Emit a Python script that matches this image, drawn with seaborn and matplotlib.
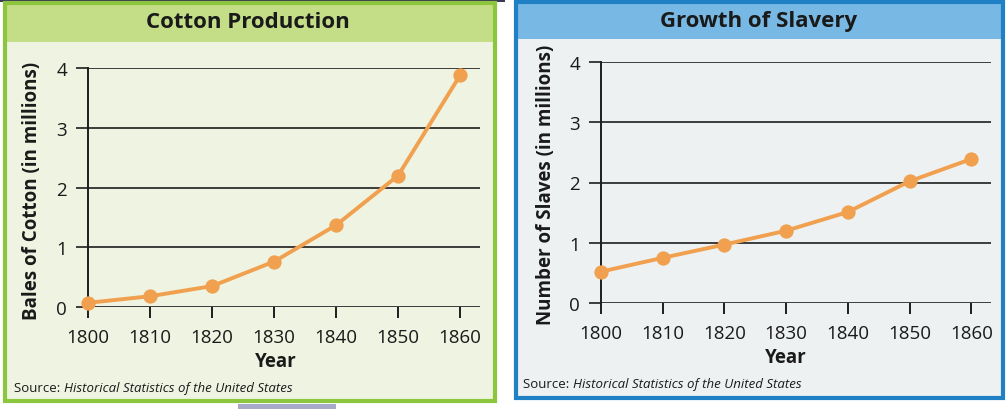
import matplotlib
matplotlib.use("Agg")
import matplotlib.pyplot as plt
import seaborn as sns
import pandas as pd
from matplotlib.patches import Rectangle

# ---- data ----
years = [1800, 1810, 1820, 1830, 1840, 1850, 1860]
cotton_bales = [0.07, 0.18, 0.35, 0.76, 1.37, 2.20, 3.88]   # millions of bales
slaves = [0.52, 0.75, 0.97, 1.20, 1.51, 2.02, 2.39]          # millions of people
y_ticks = [0, 1, 2, 3, 4]
x_ticks = years

sns.set_theme(style="white")
plt.rcParams['font.family'] = ['Open Sans', 'DejaVu Sans']

W, H = 1008, 410
fig = plt.figure(figsize=(W / 100, H / 100), dpi=100)
fig.patch.set_facecolor('white')


def fx(x):
    return x / W


def fy(y):
    return 1 - y / H


def rect(x0, y0, x1, y1, **kw):
    fig.patches.append(Rectangle((fx(x0), fy(y1)), fx(x1) - fx(x0), fy(y0) - fy(y1),
                                 transform=fig.transFigure, **kw))


ORANGE = '#f0a04e'
GRID = '#1e1e1e'
TXT = '#1a1a1a'

# page decorations visible around the panels
rect(0, 0, 505, 2.5, facecolor='#3b3a55', edgecolor='none', zorder=-4)
rect(238, 405, 336, 410, facecolor='#a8a8c8', edgecolor='none', zorder=-4)


def panel(box, band_bottom, border, band, inner, title, title_xy):
    x0, y0, x1, y1 = box
    rect(x0, y0, x1, y1, facecolor=inner, edgecolor='none', zorder=-3)
    rect(x0, y0, x1, band_bottom, facecolor=band, edgecolor='none', zorder=-2)
    rect(x0, y0, x1, y1, facecolor='none', edgecolor=border, lw=3.0, zorder=-1)
    fig.text(fx(title_xy[0]), fy(title_xy[1]), title, ha='center', va='center',
             fontsize=16, fontweight='bold', color=TXT)


def chart(axbox, values, ylabel, ylabel_xy, year_xy, source_xy):
    left, top, right, bottom = axbox
    ax = fig.add_axes([fx(left), fy(bottom), fx(right) - fx(left), (bottom - top) / H])
    ax.set_facecolor('none')
    df = pd.DataFrame({'Year': years, 'Value': values})
    sns.lineplot(data=df, x='Year', y='Value', ax=ax, color=ORANGE, lw=2.8,
                 marker='o', markersize=9.5, markeredgecolor=ORANGE,
                 markerfacecolor=ORANGE, clip_on=False, zorder=5)
    ax.set_xlim(1800, 1863.2)
    ax.set_ylim(0, 4)
    ax.set_xticks(x_ticks)
    ax.set_yticks(y_ticks)
    ax.set_xticklabels([str(v) for v in x_ticks])
    ax.set_yticklabels([str(v) for v in y_ticks])
    ax.grid(axis='y', color=GRID, lw=1.2)
    ax.grid(axis='x', visible=False)
    ax.set_axisbelow(True)
    for s in ['top', 'right', 'bottom']:
        ax.spines[s].set_visible(False)
    ax.spines['left'].set_color(GRID)
    ax.spines['left'].set_linewidth(1.4)
    ax.tick_params(axis='y', which='major', length=9, width=1.2, color=GRID,
                   direction='out', pad=6, labelsize=13.5, labelcolor=TXT, left=True)
    ax.tick_params(axis='x', which='major', length=8, width=1.4, color=GRID,
                   direction='out', pad=7, labelsize=13.5, labelcolor=TXT, bottom=True)
    ax.set_xlabel('')
    ax.set_ylabel('')
    fig.text(fx(ylabel_xy[0]), fy(ylabel_xy[1]), ylabel, rotation=90, ha='center', va='center',
             fontsize=13.5, fontweight='bold', color=TXT)
    fig.text(fx(year_xy[0]), fy(year_xy[1]), 'Year', ha='center', va='center',
             fontsize=13.5, fontweight='bold', color=TXT)
    t1 = fig.text(fx(source_xy[0]), fy(source_xy[1]), 'Source: ', ha='left', va='center',
                  fontsize=9.5, color=TXT)
    fig.canvas.draw()
    bb = t1.get_window_extent(renderer=fig.canvas.get_renderer())
    fig.text(bb.x1 / W, fy(source_xy[1]), 'Historical Statistics of the United States',
             ha='left', va='center', fontsize=9.5, style='italic', color=TXT)
    return ax


# Left panel: Cotton production
panel((5, 4, 495, 402), 43, '#8cc63f', '#c4de88', '#eef4e1',
      'Cotton Production', (248, 23))
chart((88, 69, 480, 308), cotton_bales, 'Bales of Cotton (in millions)',
      (32, 191), (276, 362), (14, 389))

# Right panel: Growth of slavery
panel((516, 3, 1003, 399), 40, '#1f80c6', '#78b8e4', '#eef1f1',
      'Growth of Slavery', (759, 21))
chart((601, 63, 991, 304), slaves, 'Number of Slaves (in millions)',
      (546, 185), (786, 358), (523, 385))

fig.savefig('out.png', dpi=100)
